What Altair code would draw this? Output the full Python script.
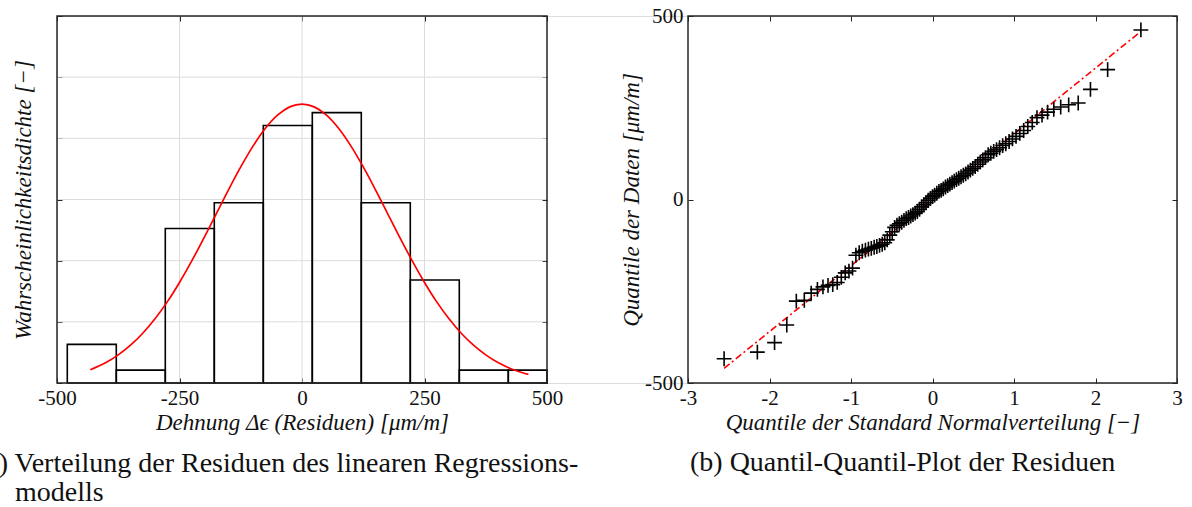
import altair as alt
import numpy as np
import pandas as pd

# ---------------- data ----------------
# sorted residuals (QQ-plot y values), µm/m
residuals = [
    -434, -416, -390, -342,
    -277, -275, -255, -245, -238, -234, -232, -226, -212, -200, -195, -187,
    -152, -145, -141, -138, -135, -133, -130, -128, -125, -122, -118, -110, -97, -88,
    -76, -70, -66, -62, -57, -52, -49, -45, -41, -37, -33, -27, -20, -14, -8, -2, 3, 8, 12, 17,
    22, 25, 29, 34, 38, 42, 46, 50, 54, 58, 62, 66, 70, 75, 80, 85, 90, 96, 102, 108, 114,
    122, 126, 131, 136, 141, 147, 152, 158, 165, 172, 180, 188, 199, 210,
    223, 230, 238, 246, 252, 258, 263, 300,
    354, 462,
]
# theoretical standard-normal quantiles (QQ-plot x values)
qq_x = [
    -2.557, -2.149, -1.938, -1.788, -1.671, -1.573, -1.488, -1.412, -1.344, -1.282,
    -1.224, -1.169, -1.119, -1.071, -1.025, -0.981, -0.940, -0.899, -0.861, -0.823,
    -0.786, -0.751, -0.716, -0.683, -0.650, -0.617, -0.586, -0.555, -0.524, -0.494,
    -0.465, -0.436, -0.407, -0.378, -0.350, -0.322, -0.294, -0.267, -0.240, -0.213,
    -0.186, -0.159, -0.132, -0.106, -0.079, -0.053, -0.026, 0.000, 0.026, 0.053,
    0.079, 0.106, 0.132, 0.159, 0.186, 0.213, 0.240, 0.267, 0.294, 0.322,
    0.350, 0.378, 0.407, 0.436, 0.465, 0.494, 0.524, 0.555, 0.586, 0.617,
    0.650, 0.683, 0.716, 0.751, 0.786, 0.823, 0.861, 0.899, 0.940, 0.981,
    1.025, 1.071, 1.119, 1.169, 1.224, 1.282, 1.344, 1.412, 1.488, 1.573,
    1.671, 1.788, 1.938, 2.149, 2.557,
]
bin_edges = [-479, -379, -279, -179, -79, 21, 121, 221, 321, 421, 521]

# fitted normal density curve
curve_x = [-432, -400, -375, -350, -325, -300, -275, -250, -225, -200, -175, -150,
           -125, -100, -75, -50, -25, 0, 25, 50, 75, 100, 125, 150, 175, 200, 225,
           250, 275, 300, 325, 350, 375, 400, 425, 450, 462]
curve_y = [0.000108, 0.000167, 0.000230, 0.000309, 0.000407, 0.000525, 0.000663,
           0.000822, 0.000998, 0.001186, 0.001383, 0.001579, 0.001766, 0.001936,
           0.002080, 0.002189, 0.002257, 0.002280, 0.002257, 0.002189, 0.002080,
           0.001936, 0.001766, 0.001579, 0.001383, 0.001186, 0.000998, 0.000822,
           0.000663, 0.000525, 0.000407, 0.000309, 0.000230, 0.000167, 0.000119,
           0.000084, 0.000070]

# QQ reference line end points
ref_x = [-2.557, 2.557]
ref_y = [-460, 458]

hist_x_domain = [-500, 500]
hist_y_domain = [0, 0.003]
hist_x_ticks = [-500, -250, 0, 250, 500]
hist_y_ticks = [0, 0.0005, 0.001, 0.0015, 0.002, 0.0025, 0.003]
hist_x_grid = [-250, 0, 250]
hist_y_grid = [0.0005, 0.001, 0.0015, 0.002, 0.0025]
qq_x_domain = [-3, 3]
qq_y_domain = [-500, 500]
qq_x_ticks = [-3, -2, -1, 0, 1, 2, 3]
qq_y_ticks = [-500, 0, 500]

title_hist_x = "Dehnung Δϵ (Residuen) [μm/m]"
title_hist_y = "Wahrscheinlichkeitsdichte [−]"
title_qq_x = "Quantile der Standard Normalverteilung [−]"
title_qq_y = "Quantile der Daten [μm/m]"
caption_a1 = "(a) Verteilung der Residuen des linearen Regressions-"
caption_a2 = "modells"
caption_b = "(b) Quantil-Quantil-Plot der Residuen"

# ---------------- tables ----------------
counts, _ = np.histogram(residuals, bins=bin_edges)
n = len(residuals)
bw = bin_edges[1] - bin_edges[0]
hist_df = pd.DataFrame({"lo": bin_edges[:-1], "hi": bin_edges[1:],
                        "dens": counts / (n * bw), "zero": 0.0})
curve_df = pd.DataFrame({"x": curve_x, "y": curve_y})
qq_df = pd.DataFrame({"x": qq_x, "y": residuals})
ref_df = pd.DataFrame({"x": ref_x, "y": ref_y})
vgrid_df = pd.DataFrame({"x": hist_x_grid, "y0": hist_y_domain[0], "y1": hist_y_domain[1]})
hgrid_df = pd.DataFrame({"y": hist_y_grid, "x0": hist_x_domain[0], "x1": hist_x_domain[1]})
hframe_df = pd.DataFrame({"x0": [hist_x_domain[0]], "x1": [hist_x_domain[1]],
                          "y0": [hist_y_domain[0]], "y1": [hist_y_domain[1]]})
qframe_df = pd.DataFrame({"x0": [qq_x_domain[0]], "x1": [qq_x_domain[1]],
                          "y0": [qq_y_domain[0]], "y1": [qq_y_domain[1]]})

# ---------------- layout constants ----------------
W, H = 1120, 367
LEFT_W = 490
RIGHT_X0 = 631
TICK = 5
FONT = "Liberation Serif"
INK = "#262626"

hx = alt.Scale(domain=hist_x_domain, range=[0, LEFT_W], clamp=True, nice=False, zero=False)
hy = alt.Scale(domain=hist_y_domain, range=[H, 0], nice=False, zero=False)
qx = alt.Scale(domain=qq_x_domain, range=[RIGHT_X0, W], nice=False, zero=False)
qy = alt.Scale(domain=qq_y_domain, range=[H, 0], nice=False, zero=False)

common = dict(domain=False, grid=False, tickSize=TICK, tickColor=INK, tickWidth=1,
              labelFlush=False, labelOverlap=False,
              labelFont=FONT, labelFontSize=21, labelColor="#111111",
              titleFont=FONT, titleFontStyle="italic", titleFontSize=23,
              titleFontWeight="normal", titleColor="#111111")
minus_expr = "datum.value < 0 ? '-' + format(abs(datum.value), 'd') : format(datum.value, 'd')"

# ---------------- left panel ----------------
vgrid = alt.Chart(vgrid_df).mark_rule(color="#dcdcdc", strokeWidth=1).encode(
    x=alt.X("x:Q", scale=hx, axis=None),
    y=alt.Y("y0:Q", scale=hy, axis=None), y2="y1:Q")
hgrid = alt.Chart(hgrid_df).mark_rule(color="#dcdcdc", strokeWidth=1).encode(
    y=alt.Y("y:Q", scale=hy, axis=None),
    x=alt.X("x0:Q", scale=hx, axis=None), x2="x1:Q")

bars = alt.Chart(hist_df).mark_rect(fillOpacity=0, stroke="black", strokeWidth=1.6).encode(
    x=alt.X("lo:Q", scale=hx, axis=alt.Axis(
        orient="bottom", values=hist_x_ticks, offset=-TICK, labelPadding=4,
        labelExpr=minus_expr, title=title_hist_x, titlePadding=3, **common)),
    x2="hi:Q",
    y=alt.Y("zero:Q", scale=hy, axis=alt.Axis(
        orient="left", values=hist_y_ticks, offset=-TICK, labels=False,
        title=title_hist_y, titlePadding=21, **common)),
    y2="dens:Q")

curve = alt.Chart(curve_df).mark_line(color="#ff0000", strokeWidth=1.7, interpolate="monotone").encode(
    x=alt.X("x:Q", scale=hx, axis=alt.Axis(
        orient="top", values=hist_x_ticks, offset=-TICK, labels=False, title=None, **common)),
    y=alt.Y("y:Q", scale=hy, axis=alt.Axis(
        orient="right", values=hist_y_ticks, offset=-(W - LEFT_W) - TICK, labels=False,
        title=None, **common)))

hframe = alt.Chart(hframe_df).mark_rect(fillOpacity=0, stroke=INK, strokeWidth=1.5).encode(
    x=alt.X("x0:Q", scale=hx, axis=None), x2="x1:Q",
    y=alt.Y("y0:Q", scale=hy, axis=None), y2="y1:Q")

# ---------------- right panel ----------------
ref = alt.Chart(ref_df).mark_line(color="#ff0000", strokeWidth=1.6, strokeDash=[7, 3, 2, 3]).encode(
    x=alt.X("x:Q", scale=qx, axis=alt.Axis(
        orient="top", values=qq_x_ticks, offset=-TICK, labels=False, title=None, **common)),
    y=alt.Y("y:Q", scale=qy, axis=alt.Axis(
        orient="right", values=qq_y_ticks, offset=-TICK, labels=False, title=None, **common)))

pts = alt.Chart(qq_df).mark_point(shape="M-1,0L1,0M0,-1L0,1", filled=False, stroke="black",
                                  strokeWidth=1.6, size=220, opacity=1).encode(
    x=alt.X("x:Q", scale=qx, axis=alt.Axis(
        orient="bottom", values=qq_x_ticks, offset=-TICK, labelPadding=4,
        labelExpr=minus_expr, title=title_qq_x, titlePadding=3, **common)),
    y=alt.Y("y:Q", scale=qy, axis=alt.Axis(
        orient="left", values=qq_y_ticks, offset=-RIGHT_X0 - TICK, labelPadding=5,
        labelExpr=minus_expr, title=title_qq_y, titlePadding=1, **common)))

qframe = alt.Chart(qframe_df).mark_rect(fillOpacity=0, stroke=INK, strokeWidth=1.5).encode(
    x=alt.X("x0:Q", scale=qx, axis=None), x2="x1:Q",
    y=alt.Y("y0:Q", scale=qy, axis=None), y2="y1:Q")

# ---------------- captions ----------------
def caption(text, x, y):
    return alt.Chart(pd.DataFrame({"t": [text]})).mark_text(
        align="left", baseline="alphabetic", font=FONT, fontSize=28, color="#111111"
    ).encode(text="t:N", x=alt.value(x), y=alt.value(y))

cap1 = caption(caption_a1, -80, 456)
cap2 = caption(caption_a2, -42, 485)
cap3 = caption(caption_b, 633, 455)

chart = alt.layer(
    vgrid, hgrid, bars, curve, hframe, ref, pts, qframe, cap1, cap2, cap3
).resolve_scale(x="independent", y="independent").resolve_axis(
    x="independent", y="independent"
).properties(
    width=W, height=H,
    autosize=alt.AutoSizeParams(type="none"),
    padding={"left": 57, "top": 16, "right": 15, "bottom": 124},
).configure_view(strokeWidth=0).configure(background="white")

chart.save("out.html", embed_options={"renderer": "svg", "actions": False})
